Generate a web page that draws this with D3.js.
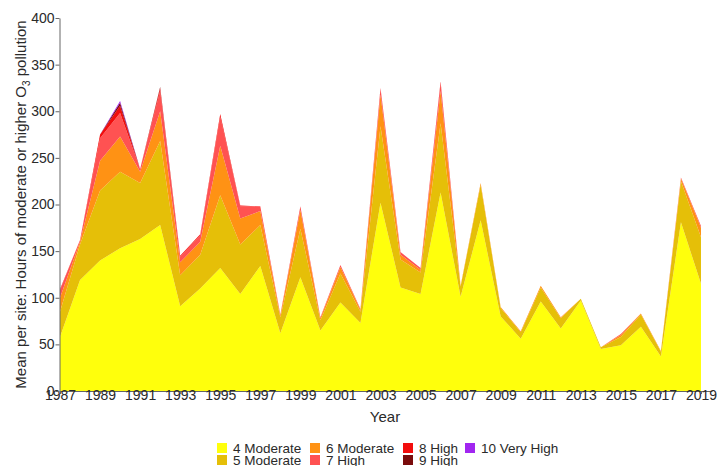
<!DOCTYPE html>
<html>
<head>
<meta charset="utf-8">
<script src="https://cdn.jsdelivr.net/npm/d3@7"></script>
<style>
  body { margin: 0; background: #fff; }
  svg { display: block; font-family: "Liberation Sans", Arial, sans-serif; }
</style>
</head>
<body>
<svg width="718" height="466"></svg>
<script>
const years = d3.range(1987, 2020);
const categories = ["4 Moderate", "5 Moderate", "6 Moderate", "7 High", "8 High", "9 High", "10 Very High"];
const colors = ["#ffff0c", "#e5bf08", "#ff9214", "#ff5252", "#f20d0d", "#7a0c0c", "#a126f0"];

// hours per site in each band, 1987..2019
const moderate4 = [58, 119, 140, 153, 163, 178, 91, 110, 132, 104, 134, 62, 122, 65, 95, 73, 202, 111, 104, 213, 101, 183, 80, 56, 96, 67, 97, 45, 49, 69, 37, 181, 115];
const moderate5 = [27, 38, 75, 82, 60, 90, 33, 36, 78, 53, 44, 17, 52, 11, 31, 12, 82, 30, 23, 74, 11, 38, 9, 7, 15, 11, 2, 2, 9, 13, 5, 44, 50];
const moderate6 = [15, 3, 32, 38, 12, 32, 14, 14, 53, 28, 15, 2, 20, 2, 7, 2, 34, 5, 3, 35, 1, 2, 1, 1, 2, 1, 0, 0, 2, 1, 1, 3, 10];
const high7 = [8, 2, 24, 25, 3, 22, 6, 7, 31, 13, 5, 1, 4, 1, 2, 1, 6, 3, 2, 8, 0, 0, 0, 0, 0, 0, 0, 0, 1, 0, 0, 1, 2];
const high8 = [1, 0, 4, 8, 0, 3, 1, 1, 3, 1, 0, 0, 0, 0, 0, 0, 1, 0, 0, 2, 0, 0, 0, 0, 0, 0, 0, 0, 0, 0, 0, 0, 0];
const high9 = [0, 0, 0, 3, 0, 1, 0, 0, 0, 0, 0, 0, 0, 0, 0, 0, 0, 0, 0, 0, 0, 0, 0, 0, 0, 0, 0, 0, 0, 0, 0, 0, 0];
const veryHigh10 = [0, 0, 0, 2, 0, 0, 0, 0, 0, 0, 0, 0, 0, 0, 0, 0, 0, 0, 0, 0, 0, 0, 0, 0, 0, 0, 0, 0, 0, 0, 0, 0, 0];
const series = [moderate4, moderate5, moderate6, high7, high8, high9, veryHigh10];
const yTicks = [0, 50, 100, 150, 200, 250, 300, 350, 400];
const xTicks = d3.range(1987, 2020, 2);

const rows = years.map((yr, i) => {
  const row = { year: yr };
  categories.forEach((c, k) => { row[c] = series[k][i]; });
  return row;
});

const svg = d3.select("svg");
const x = d3.scaleLinear().domain([1987, 2019.55]).range([60, 712]);
const y = d3.scaleLinear().domain([0, 400]).range([391, 18]);

const stack = d3.stack().keys(categories);
const layers = stack(rows);

const area = d3.area()
  .x(d => x(d.data.year))
  .y0(d => y(d[0]))
  .y1(d => y(d[1]));

svg.append("g")
  .selectAll("path")
  .data(layers)
  .enter()
  .append("path")
  .attr("d", area)
  .attr("fill", (d, i) => colors[i]);

// axes
const xAxis = svg.append("g")
  .attr("transform", `translate(0,${y(0)})`)
  .call(d3.axisBottom(x).tickValues(xTicks).tickFormat(d3.format("d")).tickSize(3).tickSizeOuter(0));
const yAxis = svg.append("g")
  .attr("transform", `translate(${x(1987) - 0.5},0)`)
  .call(d3.axisLeft(y).tickValues(yTicks).tickSize(4).tickSizeOuter(0));

[xAxis, yAxis].forEach(g => {
  g.select(".domain").attr("stroke", "#666");
  g.selectAll(".tick line").attr("stroke", "#666");
  g.selectAll(".tick text")
    .attr("fill", "#2a2a2a")
    .attr("font-size", 14)
    .attr("font-family", "Liberation Sans, Arial, sans-serif");
});
xAxis.selectAll(".tick text").attr("dy", "0.6em").attr("y", 1);
yAxis.selectAll(".tick text").attr("x", -5);

svg.append("text")
  .attr("x", 385)
  .attr("y", 422)
  .attr("text-anchor", "middle")
  .attr("font-size", 15)
  .attr("fill", "#2a2a2a")
  .text("Year");

const yLabel = svg.append("text")
  .attr("transform", `translate(26,${(y(0) + y(400)) / 2}) rotate(-90)`)
  .attr("text-anchor", "middle")
  .attr("font-size", 15)
  .attr("fill", "#2a2a2a");
yLabel.append("tspan").text("Mean per site: Hours of moderate or higher O");
yLabel.append("tspan").attr("font-size", 10).attr("dy", 4).text("3");
yLabel.append("tspan").attr("dy", -4).text(" pollution");

// legend, two rows
const legendCols = [217, 310, 403, 465];
const legendPos = [[0, 0], [0, 1], [1, 0], [1, 1], [2, 0], [2, 1], [3, 0]];
const legend = svg.append("g")
  .selectAll("g")
  .data(categories)
  .enter()
  .append("g")
  .attr("transform", (d, i) => `translate(${legendCols[legendPos[i][0]]},${443 + legendPos[i][1] * 12})`);
legend.append("rect")
  .attr("width", 10)
  .attr("height", 10)
  .attr("fill", (d, i) => colors[i]);
legend.append("text")
  .attr("x", 16)
  .attr("y", 10)
  .attr("font-size", 13.5)
  .attr("fill", "#2a2a2a")
  .text(d => d);
</script>
</body>
</html>
